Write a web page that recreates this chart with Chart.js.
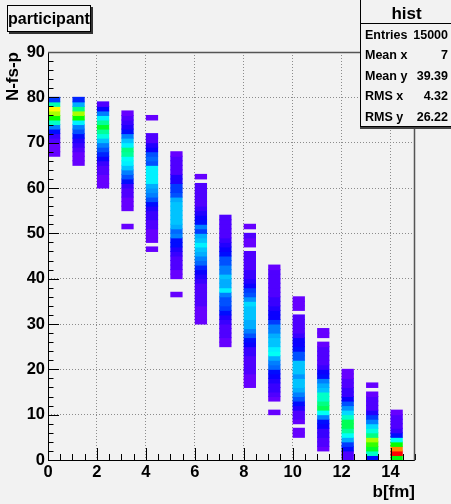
<!DOCTYPE html>
<html>
<head>
<meta charset="utf-8">
<script src="https://cdn.jsdelivr.net/npm/chart.js@4"></script>
<style>
  body { margin: 0; background: #f2f2f2; }
  #wrap { position: relative; width: 451px; height: 504px; overflow: hidden;
          font-family: "Liberation Sans", Arial, sans-serif; font-weight: bold; color: #000; }
  #c { position: absolute; left: 0; top: 0; }
  #title { position: absolute; left: 7px; top: 5px; width: 82px; height: 25px;
           border: 1px solid #000; box-shadow: 2px 2px 0 #333; background: #f2f2f2;
           font-size: 16px; line-height: 25px; text-align: center; }
  #stats { position: absolute; left: 360px; top: -1px; width: 96px; height: 126px;
           border: 1px solid #000; border-left-width: 1.5px; box-shadow: 0 2px 0 #444; background: #f2f2f2; }
  #stats .name { position: absolute; left: 0; top: 4px; width: 91px; text-align: center; font-size: 17px; }
  #stats .sep { position: absolute; left: 0; top: 23px; width: 96px; border-top: 1px solid #000; }
  #stats .row { position: absolute; left: 4px; width: 83px; font-size: 12.5px; height: 16px; line-height: 16px; }
  #stats .row span { position: absolute; right: 0; }
</style>
</head>
<body>
<div id="wrap">
  <canvas id="c" width="451" height="504"></canvas>
  <div id="title">participant</div>
  <div id="stats">
    <div class="name">hist</div>
    <div class="sep"></div>
    <div class="row" style="top:26.5px">Entries<span>15000</span></div>
    <div class="row" style="top:47px">Mean x<span>7</span></div>
    <div class="row" style="top:67.5px">Mean y<span>39.39</span></div>
    <div class="row" style="top:88px">RMS x<span>4.32</span></div>
    <div class="row" style="top:108.5px">RMS y<span>26.22</span></div>
  </div>
</div>
<script>
// impact parameter bins (left edge of each filled b column), bin sizes
const bValues = [0, 1, 2, 3, 4, 5, 6, 7, 8, 9, 10, 11, 12, 13, 14];
const bBinWidth = 0.5;
const yBinWidth = 1;

// lowest filled N-fs-p bin of every column
const colStart = [67, 65, 60, 51, 46, 36, 30, 25, 16, 10, 5, 2, 0, 0, 0];

// counts per y bin, read bottom -> top (0 = empty bin)
const countsB0  = [3, 3, 4, 6, 12, 25, 45, 80, 120, 150, 170, 85, 33];
const countsB1  = [2, 3, 4, 5, 9, 14, 22, 38, 47, 70, 120, 150, 95, 55, 30];
const countsB2  = [2, 3, 4, 5, 6, 12, 20, 28, 36, 47, 58, 75, 92, 110, 90, 68, 47, 18, 8];
const countsB3  = [2, 0, 0, 0, 2, 3, 4, 5, 7, 13, 22, 36, 47, 58, 70, 72, 90, 95, 70, 60, 48, 25, 14, 12, 6, 4];
const countsB4  = [2, 0, 2, 3, 4, 5, 6, 10, 12, 15, 22, 38, 47, 52, 55, 68, 70, 70, 68, 38, 40, 36, 20, 16, 8, 5, 0, 0, 0, 2];
const countsB5  = [2, 0, 0, 0, 3, 4, 5, 6, 8, 12, 14, 22, 24, 46, 40, 56, 58, 60, 58, 60, 58, 56, 36, 34, 32, 15, 14, 7, 6, 5, 5, 4];
const countsB6  = [3, 3, 4, 4, 5, 5, 6, 7, 8, 12, 14, 20, 30, 40, 47, 55, 58, 70, 58, 55, 35, 45, 22, 20, 14, 13, 7, 6, 6, 5, 5, 0, 2];
const countsB7  = [3, 4, 5, 6, 7, 12, 14, 22, 34, 36, 38, 48, 70, 55, 54, 58, 48, 47, 36, 36, 22, 20, 14, 12, 7, 6, 6, 5, 5];
const countsB8  = [3, 3, 4, 5, 6, 7, 8, 12, 13, 20, 22, 36, 47, 56, 57, 58, 60, 60, 64, 52, 38, 35, 20, 14, 13, 12, 7, 6, 6, 5, 0, 4, 4, 5, 0, 2];
const countsB9  = [3, 0, 0, 4, 6, 10, 12, 14, 20, 22, 40, 47, 53, 72, 70, 60, 58, 56, 47, 45, 32, 20, 18, 16, 11, 9, 7, 7, 6, 6, 5, 5, 4];
const countsB10 = [2, 3, 0, 4, 5, 7, 14, 22, 36, 47, 57, 60, 58, 52, 58, 60, 58, 38, 36, 22, 20, 18, 12, 8, 7, 6, 5, 0, 3, 4, 3];
const countsB11 = [3, 5, 7, 11, 13, 20, 25, 47, 72, 105, 95, 82, 80, 60, 57, 47, 22, 20, 12, 8, 6, 6, 5, 4, 0, 3, 3];
const countsB12 = [6, 7, 22, 32, 54, 72, 92, 105, 102, 80, 62, 50, 36, 20, 13, 11, 6, 5, 4, 3];
const countsB13 = [25, 80, 112, 130, 150, 95, 75, 62, 47, 32, 14, 7, 6, 5, 4, 0, 3];
const countsB14 = [118, 220, 190, 120, 72, 26, 12, 8, 6, 5, 4];
const allCounts = [countsB0, countsB1, countsB2, countsB3, countsB4, countsB5, countsB6, countsB7,
                   countsB8, countsB9, countsB10, countsB11, countsB12, countsB13, countsB14];
const maxCount = 220;

// tick labels
const xTickValues = [0, 2, 4, 6, 8, 10, 12, 14];
const yTickValues = [0, 10, 20, 30, 40, 50, 60, 70, 80, 90];

// violet -> red palette with 50 steps, like ROOT's default one
function colorFor(v) {
    const i = Math.min(49, Math.floor(v / maxCount * 50));
    const hue = 264 * (1 - i / 49);
    return 'hsl(' + hue.toFixed(1) + ',100%,50%)';
}

// one floating bar per filled cell
const cells = [];
bValues.forEach((b, k) => {
    allCounts[k].forEach((v, j) => {
        if (!v) return;
        const lo = colStart[k] + j * yBinWidth;
        cells.push({ x: b + bBinWidth / 2, y: [lo, lo + yBinWidth], v: v });
    });
});

const tickFont = { family: 'Liberation Sans', weight: 'bold', size: 16.5 };
const titleFont = { family: 'Liberation Sans', weight: 'bold', size: 17 };

// ROOT style: ticks inside the frame, frame box around the plot
const frameTicks = {
    id: 'frameTicks',
    afterDatasetsDraw(chart) {
        const { ctx, chartArea: a, scales: { x, y } } = chart;
        ctx.save();
        ctx.strokeStyle = '#000';
        ctx.lineWidth = 1;
        ctx.beginPath();
        for (let v = 0; v <= 15; v += 0.5) {
            const px = Math.round(x.getPixelForValue(v)) + 0.5;
            const len = v % 2 === 0 ? 12 : 6;
            ctx.moveTo(px, a.bottom);
            ctx.lineTo(px, a.bottom - len);
        }
        for (let v = 0; v <= 90; v += 2) {
            const py = Math.round(y.getPixelForValue(v)) + 0.5;
            const len = v % 10 === 0 ? 11 : 5.5;
            ctx.moveTo(a.left, py);
            ctx.lineTo(a.left + len, py);
        }
        ctx.moveTo(a.left + 0.5, a.top);
        ctx.lineTo(a.left + 0.5, a.bottom + 0.5);
        ctx.lineTo(a.right, a.bottom + 0.5);
        ctx.stroke();
        ctx.strokeStyle = '#555';
        ctx.lineWidth = 1.5;
        ctx.beginPath();
        ctx.moveTo(a.left, a.top + 0.5);
        ctx.lineTo(a.right - 0.5, a.top + 0.5);
        ctx.lineTo(a.right - 0.5, a.bottom + 0.5);
        ctx.stroke();
        ctx.restore();
    }
};

new Chart(document.getElementById('c'), {
    type: 'bar',
    data: {
        datasets: [{
            data: cells,
            backgroundColor: c => colorFor(c.raw.v),
            borderWidth: 0,
            inflateAmount: 0.5,
            barPercentage: 0.46,
            categoryPercentage: 1
        }]
    },
    options: {
        responsive: false,
        animation: false,
        layout: { padding: { top: 52, right: 36, left: 0, bottom: 0 } },
        plugins: { legend: { display: false }, tooltip: { enabled: false } },
        scales: {
            x: {
                type: 'linear', min: 0, max: 15, offset: false,
                afterFit: s => { s.height = 44; },
                afterBuildTicks: s => { s.ticks = xTickValues.map(v => ({ value: v })); },
                grid: { offset: false, color: '#8c8c8c', drawTicks: false },
                border: { display: false, dash: [1, 2] },
                ticks: { font: tickFont, color: '#000', padding: 3, maxRotation: 0 },
                title: { display: true, text: 'b[fm]', align: 'end', font: titleFont, color: '#000',
                         padding: { top: 0, bottom: 1 } }
            },
            y: {
                type: 'linear', min: 0, max: 90,
                afterFit: s => { s.width = 48; },
                afterBuildTicks: s => { s.ticks = yTickValues.map(v => ({ value: v })); },
                grid: { color: '#8c8c8c', drawTicks: false },
                border: { display: false, dash: [1, 2] },
                ticks: { font: tickFont, color: '#000', padding: 3 },
                title: { display: true, text: 'N-fs-p', align: 'end', font: titleFont, color: '#000',
                         padding: { top: 3.5, bottom: 0 } }
            }
        }
    },
    plugins: [frameTicks]
});
</script>
</body>
</html>
